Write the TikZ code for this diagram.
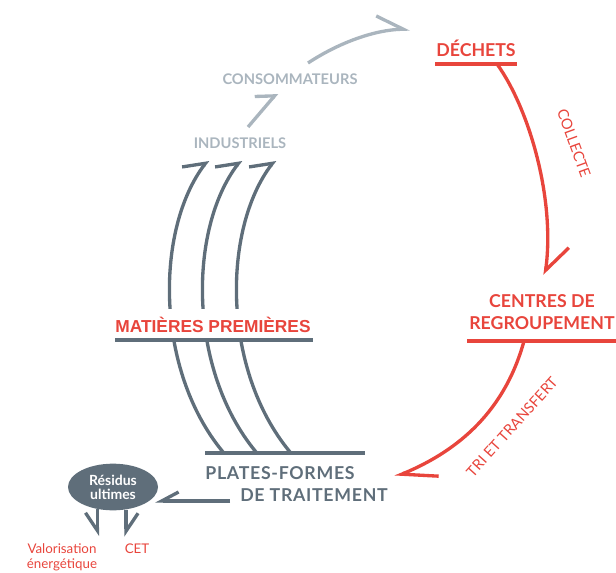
\documentclass[tikz,border=0pt]{standalone}
\usepackage{fontspec}
\setmainfont{Lato}
\newfontfamily\arialfont{Liberation Sans}
\usetikzlibrary{arrows.meta,shapes.geometric}
\definecolor{rouge}{RGB}{232,69,60}
\definecolor{ardoise}{RGB}{95,110,122}
\definecolor{brume}{RGB}{170,181,190}
\tikzset{
  flux/.style={line width=2.5pt},
  % pointes en demi-fleche
  harpl/.style 2 args={flux,-{Straight Barb[left,length=#1,width=#2]}},
  harpr/.style 2 args={flux,-{Straight Barb[right,length=#1,width=#2]}},
  % etiquettes
  titre/.style={font=\bfseries\fontsize{13.3}{16.5}\selectfont,inner sep=1pt},
  titre large/.style={font=\bfseries\fontsize{13.3}{16.5}\selectfont\addfontfeature{LetterSpace=4},inner sep=1pt},
  petit/.style={font=\bfseries\fontsize{11}{13}\selectfont,text=brume,inner sep=1pt},
  flux lbl/.style={font=\fontsize{11}{13}\selectfont,text=rouge,inner sep=1pt}
}
\begin{document}
\begin{tikzpicture}[x=0.75pt,y=-0.75pt]
  \useasboundingbox (0,0) rectangle (616,573);

  %--- amont : industriels -> consommateurs -> dechets
  \node[petit] (indus) at (240,143) {INDUSTRIELS};
  \node[petit] (conso) at (290,79) {CONSOMMATEURS};
  \draw[harpl={10pt}{22pt},brume] (248,127) -- (277,93);
  \draw[harpl={20pt}{21pt},brume] (308,63) .. controls (340,42) and (375,30) .. (410,29);

  %--- dechets et collecte
  \node[titre,text=rouge] (dechets) at (476,48) {DÉCHETS};
  \coordinate (dech-l) at (435,64);
  \coordinate (dech-r) at (517,64);
  \coordinate (dech-out) at (497,64);
  \draw[flux,rouge] (dech-l) -- (dech-r);
  \coordinate (crg-in) at (545,275);
  \draw[harpl={19pt}{30pt},rouge] (dech-out) .. controls (530,110) and (555,200) .. (crg-in);
  \node[flux lbl,rotate=-70] (collecte) at (574,143) {COLLECTE};

  %--- centres de regroupement
  \node[titre,text=rouge,align=center] (centres) at (542,312) {CENTRES DE\\REGROUPEMENT};
  \coordinate (crg-l) at (467,341);
  \coordinate (crg-r) at (616,341);
  \coordinate (crg-out) at (524,341);
  \draw[flux,rouge] (crg-l) -- (crg-r);
  \coordinate (plat-in) at (395,477);
  \draw[harpl={25pt}{24pt},rouge] (crg-out) .. controls (505,410) and (460,450) .. (plat-in);
  \node[flux lbl,rotate=48] (tri) at (512,427) {TRI ET TRANSFERT};

  %--- trois boucles de retour vers les industriels
  \foreach \dx in {0,33,67}{
    \draw[harpl={12.8pt}{24.7pt},ardoise,shift={(\dx,0)}]
      (223,452) .. controls (155,370) and (155,230) .. (208,160);
  }

  %--- matieres premieres (fond blanc qui coupe les boucles)
  \node[font=\arialfont\bfseries\fontsize{13}{15}\selectfont,text=rouge,fill=white,
        inner xsep=1pt,inner ysep=6pt] (matieres) at (213,325) {MATIÈRES PREMIÈRES};
  \draw[flux,ardoise] (115,340) -- (313,340);

  %--- plates-formes de traitement
  \draw[flux,ardoise] (205,453) -- (365,453);
  \node[titre large,text=ardoise] (plat1) at (280,473) {PLATES-FORMES};
  \node[titre large,text=ardoise] (plat2) at (314,495) {DE TRAITEMENT};

  %--- residus ultimes
  \node[ellipse,fill=ardoise,minimum width=67.5pt,minimum height=35pt,inner sep=0pt,
        text=white,align=center,font=\bfseries\fontsize{10.5}{10.5}\selectfont] (residus) at (113,487) {Résidus\\ultimes};
  \coordinate (plat-out) at (230,501);
  \coordinate (res-in) at (155,501);
  \draw[harpr={12.7pt}{13.5pt},ardoise] (plat-out) -- (res-in);

  \node[font=\fontsize{10}{11.5}\selectfont,text=rouge,align=center,inner sep=0pt] (valo) at (62,557) {Valorisation\\énergétique};
  \node[font=\fontsize{10}{11.5}\selectfont,text=rouge,inner sep=0pt] (cet) at (137,549) {CET};
  \draw[harpr={13.4pt}{18pt},ardoise] (residus.235) -- ++(0,27);
  \draw[harpl={13.4pt}{18pt},ardoise] (residus.-60) -- ++(0,27);
\end{tikzpicture}
\end{document}
